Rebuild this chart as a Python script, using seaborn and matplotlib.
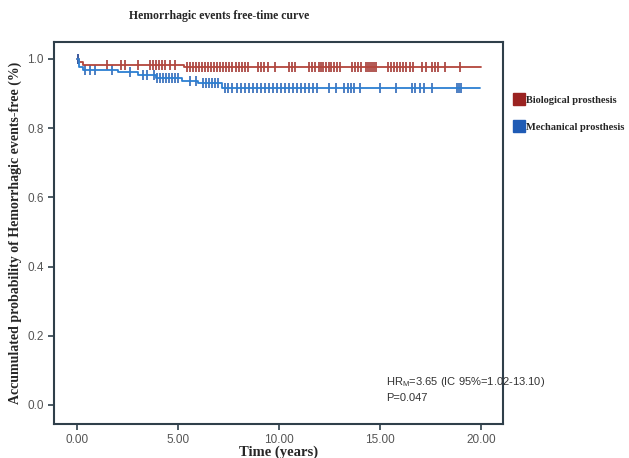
import numpy as np
import pandas as pd
import matplotlib
matplotlib.use("Agg")
import matplotlib.pyplot as plt
from matplotlib.lines import Line2D
import seaborn as sns

# step curves (time in years, survival fraction)
bio_times = [0, 0.1, 0.3, 5.3, 20.0]
bio_surv = [1.0, 0.99, 0.983, 0.977, 0.977]
mec_times = [0, 0.1, 0.3, 2.05, 3.0, 3.9, 5.2, 6.0, 7.2, 19.95]
mec_surv = [1.0, 0.976, 0.968, 0.961, 0.954, 0.944, 0.935, 0.93, 0.915, 0.915]

# censored observations
bio_censor = [0.05, 1.47, 2.2, 2.38, 3.0, 3.6, 3.75, 3.9, 4.05, 4.2, 4.35, 4.6, 4.85,
              5.45, 5.6, 5.75, 5.9, 6.05, 6.2, 6.35, 6.5, 6.65, 6.8, 6.95, 7.1, 7.25,
              7.4, 7.55, 7.7, 7.85, 8.0, 8.15, 8.3, 8.45, 8.95, 9.1, 9.25, 9.45, 9.8,
              10.5, 10.65, 10.8, 11.5, 11.65, 11.8, 12.0, 12.1, 12.2, 12.35, 12.5, 12.6,
              12.75, 12.9, 13.05, 13.6, 13.75, 13.9, 14.05, 14.3, 14.4, 14.5, 14.6, 14.7,
              14.8, 15.4, 15.55, 15.7, 15.85, 16.0, 16.15, 16.3, 16.5, 16.65, 17.1, 17.3,
              17.6, 17.75, 17.9, 18.25, 18.96]
mec_censor = [0.05, 0.4, 0.64, 0.89, 1.72, 2.62, 3.28, 3.45, 3.8, 3.95, 4.1, 4.25, 4.4,
              4.55, 4.7, 4.85, 5.0, 5.6, 5.9, 6.25, 6.4, 6.55, 6.7, 6.85, 7.0, 7.35, 7.5,
              7.7, 7.9, 8.1, 8.3, 8.5, 8.7, 8.9, 9.1, 9.3, 9.5, 9.7, 9.9, 10.1, 10.3, 10.5,
              10.7, 10.9, 11.1, 11.3, 11.5, 11.7, 11.9, 12.5, 12.85, 13.2, 13.4, 13.55,
              13.7, 14.0, 15.0, 15.8, 16.57, 16.75, 17.0, 17.2, 17.56, 18.8, 18.9, 19.0]

x_ticks = [0, 5, 10, 15, 20]
y_ticks = [0.0, 0.2, 0.4, 0.6, 0.8, 1.0]

bio_line, bio_mark = '#b3453c', '#9c2a25'
mec_line, mec_mark = '#2c7fd2', '#1e5cb3'


def surv_at(times, surv, t):
    idx = np.searchsorted(times, t, side='right') - 1
    return np.asarray(surv)[idx]


sns.set_style('ticks')
plt.rcParams['font.family'] = ['Liberation Sans', 'DejaVu Sans']
plt.rcParams['mathtext.default'] = 'regular'

fig = plt.figure(figsize=(6.29, 4.58), dpi=100)
ax = fig.add_axes([0.0859, 0.0742, 0.7138, 0.8341])

sns.lineplot(x=bio_times, y=bio_surv, drawstyle='steps-post', color=bio_line,
             linewidth=1.3, ax=ax)
sns.lineplot(x=mec_times, y=mec_surv, drawstyle='steps-post', color=mec_line,
             linewidth=1.3, ax=ax)
sns.scatterplot(x=bio_censor, y=surv_at(bio_times, bio_surv, bio_censor),
                marker='|', s=55, linewidth=1.1, color=bio_mark, ax=ax)
sns.scatterplot(x=mec_censor, y=surv_at(mec_times, mec_surv, mec_censor),
                marker='|', s=55, linewidth=1.1, color=mec_mark, ax=ax)

ax.set_xlim(-1.14, 21.1)
ax.set_ylim(-0.055, 1.049)
ax.set_xticks(x_ticks)
ax.set_xticklabels([f'{v:.2f}' for v in x_ticks])
ax.set_yticks(y_ticks)
ax.set_yticklabels([f'{v:.1f}' for v in y_ticks])
ax.tick_params(axis='both', labelsize=8.5, labelcolor='#555555', color='#2f3f4a',
               length=4, width=1.2, direction='out')
for sp in ax.spines.values():
    sp.set_color('#2f3f4a')
    sp.set_linewidth(1.5)

serif = ['Liberation Serif', 'DejaVu Serif']
ax.set_xlabel('Time (years)', family=serif, fontweight='bold', fontsize=10.5, labelpad=-1)
ax.set_ylabel('Accumulated probability of Hemorrhagic events-free (%)', family=serif,
              fontweight='bold', fontsize=10, labelpad=4)
fig.text(0.348, 0.965, 'Hemorrhagic events free-time curve', family=serif,
         fontweight='bold', fontsize=8.5, ha='center', va='center')

ax.text(15.3, 0.066, 'HR$_{M}$=3.65 (IC 95%=1.02-13.10)', fontsize=8, color='#333333',
        va='center')
ax.text(15.3, 0.02, 'P=0.047', fontsize=8, color='#333333', va='center')

handles = [Line2D([], [], marker='s', linestyle='none', markersize=8.5,
                  markerfacecolor='#9b2321', markeredgecolor='#9b2321'),
           Line2D([], [], marker='s', linestyle='none', markersize=8.5,
                  markerfacecolor='#1f5bb5', markeredgecolor='#1f5bb5')]
fig.legend(handles, ['Biological prosthesis', 'Mechanical prosthesis'],
           loc='upper left', bbox_to_anchor=(0.81, 0.80), frameon=False,
           prop={'family': serif, 'weight': 'bold', 'size': 7.5},
           handletextpad=0.05, labelspacing=1.7, handlelength=1.1,
           borderaxespad=0.0)

fig.savefig('out.png', dpi=100)
